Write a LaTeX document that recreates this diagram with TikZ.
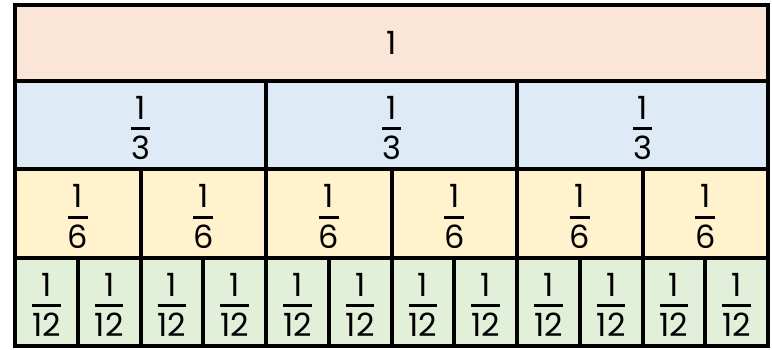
\documentclass[tikz,border=0pt]{standalone}
\usepackage{fontspec}
\setmainfont{Poppins}
\usepackage{tikz}
\usetikzlibrary{positioning}

\definecolor{wholefill}{HTML}{FBE5D6}
\definecolor{thirdfill}{HTML}{DEEBF7}
\definecolor{sixthfill}{HTML}{FFF2CC}
\definecolor{twelfthfill}{HTML}{E2F0D9}

% stacked fraction: numerator, thick bar, denominator
\newcommand{\frc}[2]{%
  \setbox0\hbox{#2}%
  \vbox{\offinterlineskip\kern 6pt\halign{\hfil##\hfil\cr
    #1\cr\noalign{\kern 8pt}
    \vrule width\wd0 height 3pt\cr\noalign{\kern 6pt}
    \box0\cr}}}

\begin{document}
\begin{tikzpicture}[
  x=1pt, y=-1pt,
  cell/.style={rectangle, draw=black, line width=4pt, inner sep=0pt, font=\fontsize{32}{36}\selectfont},
  whole/.style={cell, fill=wholefill, minimum width=753pt, minimum height=75.5pt},
  third/.style={cell, fill=thirdfill, minimum width=251pt, minimum height=88pt},
  sixth/.style={cell, fill=sixthfill, minimum width=125.5pt, minimum height=89pt},
  twelfth/.style={cell, fill=twelfthfill, minimum width=62.75pt, minimum height=88pt}
]
  \useasboundingbox (0,0) rectangle (772,350);
  % one row per unit fraction
  \node[whole] (one) at (391.5,43.25) {1};
  \foreach \i in {1,...,3}
    \node[third] (third\i) at ({15+251*(\i-0.5)},125) {\frc{1}{3}};
  \foreach \i in {1,...,6}
    \node[sixth] (sixth\i) at ({15+125.5*(\i-0.5)},213.5) {\frc{1}{6}};
  \foreach \i in {1,...,12}
    \node[twelfth] (twelfth\i) at ({15+62.75*(\i-0.5)},302) {\frc{1}{12}};
\end{tikzpicture}
\end{document}
